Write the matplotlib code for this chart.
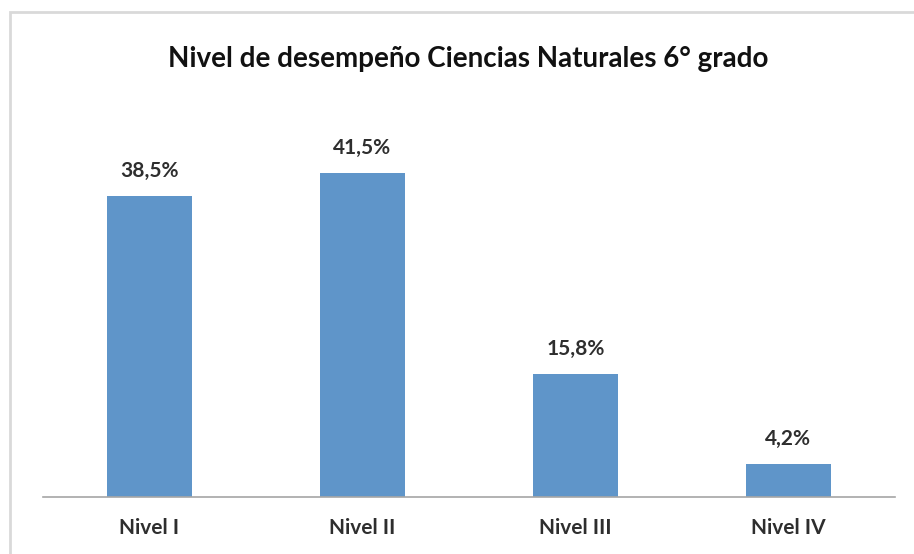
import matplotlib.pyplot as plt
from matplotlib.patches import Rectangle

# -----------------------------
# Data
# -----------------------------

niveles = ["Nivel I", "Nivel II", "Nivel III", "Nivel IV"]
porcentajes = [38.5, 41.5, 15.8, 4.2]
etiquetas = ["38,5%", "41,5%", "15,8%", "4,2%"]

plt.rcParams["font.family"] = ["Lato", "DejaVu Sans"]

# -----------------------------
# Plot
# -----------------------------

fig = plt.figure(figsize=(9.14, 5.54), dpi=100)
ax = fig.add_axes([0.047, 0.103, 0.932, 0.705])

# chart frame
fig.patches.append(Rectangle((0.011, -0.1), 1.2, 1.078, transform=fig.transFigure,
                             fill=False, edgecolor="#d9d9d9", linewidth=2))

x = range(len(niveles))
bars = ax.bar(x, porcentajes, width=0.4, color="#5f95c9")

for b, lab in zip(bars, etiquetas):
    ax.text(b.get_x() + b.get_width() / 2, b.get_height() + 1.9, lab,
            ha="center", va="bottom", fontsize=15, fontweight="bold",
            color="#2e2e2e")

ax.set_xlim(-0.5, len(niveles) - 0.5)
ax.set_ylim(0, 50)
ax.set_xticks(list(x))
ax.set_xticklabels(niveles, fontsize=15, fontweight="bold", color="#2e2e2e")
ax.tick_params(axis="x", length=0, pad=15)
ax.set_yticks([])

for s in ["top", "right", "left"]:
    ax.spines[s].set_visible(False)
ax.spines["bottom"].set_color("#a6a6a6")
ax.spines["bottom"].set_linewidth(1.2)

fig.text(0.512, 0.893, "Nivel de desempeño Ciencias Naturales 6° grado",
         ha="center", va="center", fontsize=20, fontweight="bold", color="#111111")

plt.savefig("out.png", dpi=100)
print("Saved: out.png")
